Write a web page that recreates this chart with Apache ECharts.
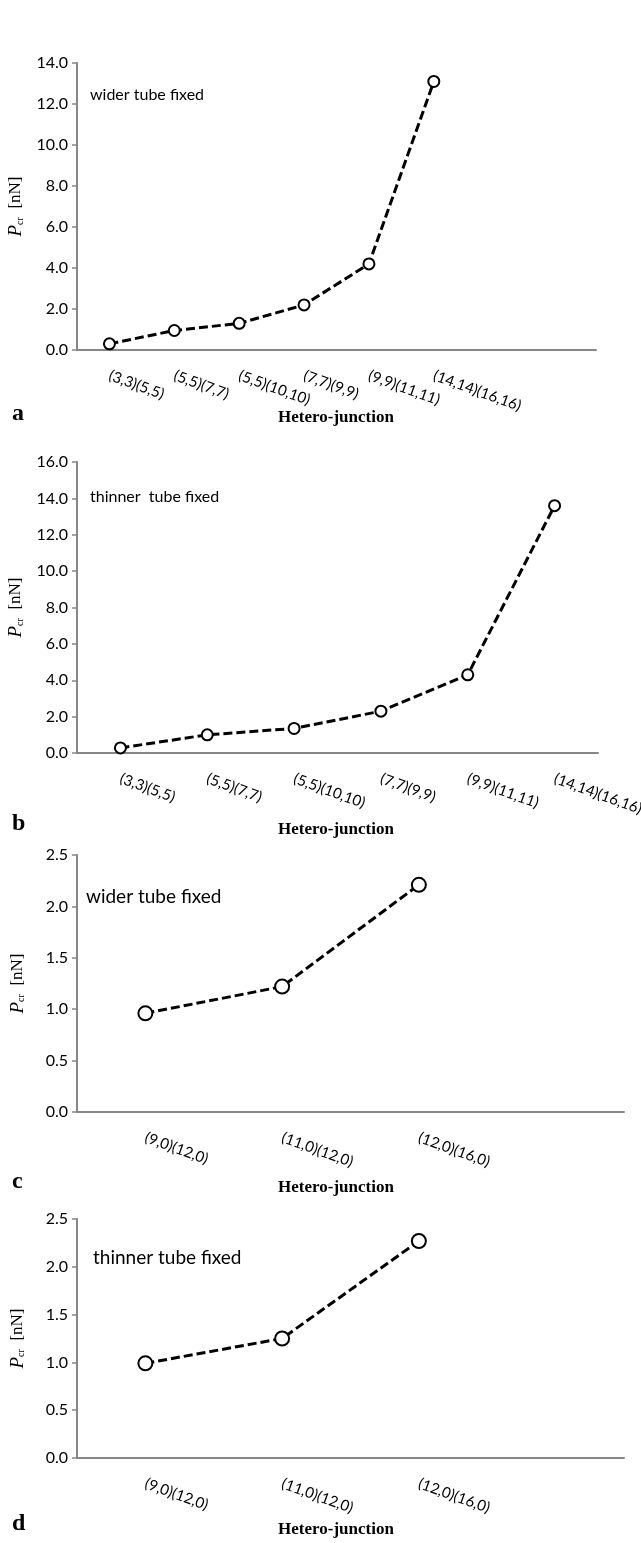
<!DOCTYPE html>
<html>
<head>
<meta charset="utf-8">
<script src="https://cdn.jsdelivr.net/npm/echarts@6/dist/echarts.min.js"></script>
<style>
  html, body { margin: 0; padding: 0; background: #fff; }
  #chart { width: 641px; height: 1543px; }
</style>
</head>
<body>
<div id="chart"></div>
<script>
// armchair junctions (panels a, b)
var armchairCats = ['(3,3)(5,5)', '(5,5)(7,7)', '(5,5)(10,10)', '(7,7)(9,9)', '(9,9)(11,11)', '(14,14)(16,16)'];
var widerArmchair = [0.3, 0.95, 1.3, 2.2, 4.2, 13.1];
var thinnerArmchair = [0.28, 1.0, 1.35, 2.3, 4.3, 13.6];

// zigzag junctions (panels c, d)
var zigzagCats = ['(9,0)(12,0)', '(11,0)(12,0)', '(12,0)(16,0)'];
var widerZigzag = [0.96, 1.22, 2.21];
var thinnerZigzag = [0.99, 1.25, 2.27];

var yMaxes = [14, 16, 2.5, 2.5];
var yIntervals = [2, 2, 0.5, 0.5];

var chart = echarts.init(document.getElementById('chart'));

var axisGray = '#878787';
var labelFont = 'Lato, "Open Sans", sans-serif';
var serif = '"Liberation Serif", "DejaVu Serif", serif';

// excel left empty slots after the data on some panels
function padCats(cats, n) {
    var out = cats.slice();
    while (out.length < n) out.push('');
    return out;
}

var panels = [
    { cats: padCats(armchairCats, 8), data: widerArmchair, grid: { left: 77, top: 63, width: 519, height: 287 }, sym: 11 },
    { cats: padCats(armchairCats, 6), data: thinnerArmchair, grid: { left: 77, top: 462, width: 521, height: 291 }, sym: 11 },
    { cats: padCats(zigzagCats, 4), data: widerZigzag, grid: { left: 77, top: 855, width: 547, height: 257 }, sym: 14 },
    { cats: padCats(zigzagCats, 4), data: thinnerZigzag, grid: { left: 77, top: 1219, width: 547, height: 239 }, sym: 14 }
];

var grids = [], xAxes = [], yAxes = [], series = [];

for (var i = 0; i < panels.length; i++) {
    var p = panels[i];
    // last label of b runs off the page in the original, don't let the grid shrink
    p.grid.outerBoundsMode = 'none';
    p.grid.containLabel = false;
    grids.push(p.grid);
    xAxes.push({
        type: 'category',
        gridIndex: i,
        data: p.cats,
        boundaryGap: true,
        axisLine: { lineStyle: { color: axisGray, width: 2 } },
        axisTick: { show: false },
        axisLabel: {
            interval: 0,
            rotate: -20,
            margin: 25,
            hideOverlap: false,
            color: '#000',
            fontFamily: labelFont,
            fontSize: 15
        }
    });
    yAxes.push({
        type: 'value',
        gridIndex: i,
        min: 0,
        max: yMaxes[i],
        interval: yIntervals[i],
        splitLine: { show: false },
        axisLine: { show: true, lineStyle: { color: axisGray, width: 2 } },
        axisTick: { show: true, length: 5, lineStyle: { color: axisGray, width: 1.5 } },
        axisLabel: {
            margin: 9,
            color: '#000',
            fontFamily: labelFont,
            fontSize: 16,
            formatter: function(v) { return v.toFixed(1); }
        },
        name: '{p|P}{s|cr}{n|  [nN]}',
        nameLocation: 'middle',
        nameRotate: 90,
        nameGap: 50,
        nameTextStyle: {
            rich: {
                p: { fontFamily: serif, fontStyle: 'italic', fontSize: 19, color: '#000' },
                s: { fontFamily: serif, fontSize: 10, color: '#000', padding: [8, 0, 0, 0] },
                n: { fontFamily: serif, fontSize: 17, color: '#000' }
            }
        }
    });
    series.push({
        type: 'line',
        xAxisIndex: i,
        yAxisIndex: i,
        data: p.data,
        symbol: 'circle',
        symbolSize: p.sym,
        lineStyle: { color: '#000', width: 3, type: [9, 4] },
        itemStyle: { color: '#fff', borderColor: '#000', borderWidth: 2 },
        z: 3
    });
}

function txt(x, y, text, font, align) {
    return {
        type: 'text', x: x, y: y,
        style: { text: text, font: font, fill: '#000', align: align || 'left', verticalAlign: 'middle' }
    };
}

var graphics = [
    txt(90, 95, 'wider tube fixed', '16px ' + labelFont),
    txt(90, 497, 'thinner  tube fixed', '16px ' + labelFont),
    txt(86, 897, 'wider tube fixed', '19px ' + labelFont),
    txt(93, 1258, 'thinner tube fixed', '19px ' + labelFont),

    txt(12, 414, 'a', 'bold 24px ' + serif),
    txt(336, 418, 'Hetero-junction', 'bold 17px ' + serif, 'center'),
    txt(12, 824, 'b', 'bold 24px ' + serif),
    txt(336, 830, 'Hetero-junction', 'bold 17px ' + serif, 'center'),
    txt(12, 1182, 'c', 'bold 24px ' + serif),
    txt(336, 1188, 'Hetero-junction', 'bold 17px ' + serif, 'center'),
    txt(12, 1524, 'd', 'bold 24px ' + serif),
    txt(336, 1530, 'Hetero-junction', 'bold 17px ' + serif, 'center')
];

chart.setOption({
    animation: false,
    backgroundColor: '#fff',
    grid: grids,
    xAxis: xAxes,
    yAxis: yAxes,
    series: series,
    graphic: graphics
});
</script>
</body>
</html>
